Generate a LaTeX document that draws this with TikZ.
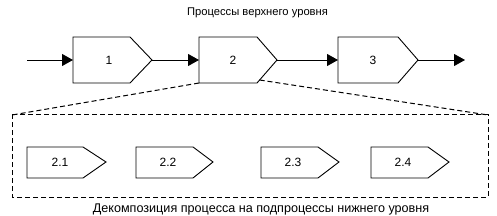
\documentclass[tikz,border=0pt]{standalone}
\usepackage{fontspec}
\setmainfont{Liberation Sans}
\usetikzlibrary{arrows.meta}
\begin{document}
\begin{tikzpicture}[x=1pt,y=-1pt,
  proc/.style={draw=black, line width=0.9pt, line join=miter},
  flow/.style={draw=black, line width=0.9pt, -{Triangle[length=11pt,width=12pt]}},
  zoomline/.style={draw=black, line width=1pt, dash pattern=on 5pt off 3pt},
  lbl/.style={inner sep=0pt, font=\fontsize{12}{14}\selectfont},
  title/.style={inner sep=0pt, font=\fontsize{11.2}{13}\selectfont},
  subtitle/.style={inner sep=0pt, font=\fontsize{12.6}{14}\selectfont}]
\useasboundingbox (0,0) rectangle (497,216);
% titles
\node[title, anchor=base] (top) at (257.5,16) {Процессы верхнего уровня};
\node[subtitle, anchor=base] (bot) at (261,212.6) {Декомпозиция процесса на подпроцессы нижнего уровня};
% upper boxes
\draw[proc] (73,37) -- (130,37) -- (152,60) coordinate (b1e) -- (130,83) -- (73,83) -- cycle;
\coordinate (b1w) at (73,60);
\node[lbl] (b1) at (109,60) {1};
\draw[proc] (199,37) -- (257,37) -- (277,60) coordinate (b2e) -- (257,83) -- (199,83) coordinate (b2sw) -- cycle;
\coordinate (b2w) at (199,60);
\coordinate (b2se) at (259.6,80);
\node[lbl] (b2) at (233,60) {2};
\draw[proc] (338,37) -- (398,37) -- (418,60) coordinate (b3e) -- (398,83) -- (338,83) -- cycle;
\coordinate (b3w) at (338,60);
\node[lbl] (b3) at (373,60) {3};
% flow
\coordinate (in) at (27,60);
\coordinate (out) at (465,60);
\draw[flow] (in) -- (b1w);
\draw[flow] (b1e) -- (b2w);
\draw[flow] (b2e) -- (b3w);
\draw[flow] (b3e) -- (out);
% decomposition frame
\coordinate (fnw) at (12,115);
\coordinate (fne) at (488,115);
\coordinate (fse) at (488,197);
\coordinate (fsw) at (12,197);
\draw[zoomline] (b2sw) -- (fnw);
\draw[zoomline] (b2se) -- (fne);
\draw[zoomline] (fnw) -- (fne) -- (fse) -- (fsw) -- cycle;
% lower boxes
\draw[proc] (27,147) -- (83,147) -- (106,162) -- (83,178) -- (27,178) -- cycle;
\node[lbl] (s1) at (60,162) {2.1};
\draw[proc] (136,147) -- (193,147) -- (213,162) -- (193,178) -- (136,178) -- cycle;
\node[lbl] (s2) at (168,162) {2.2};
\draw[proc] (261,147) -- (318,147) -- (339,162) -- (318,178) -- (261,178) -- cycle;
\node[lbl] (s3) at (293,162) {2.3};
\draw[proc] (371,147) -- (428,147) -- (449,162) -- (428,178) -- (371,178) -- cycle;
\node[lbl] (s4) at (403,162) {2.4};
\end{tikzpicture}
\end{document}
